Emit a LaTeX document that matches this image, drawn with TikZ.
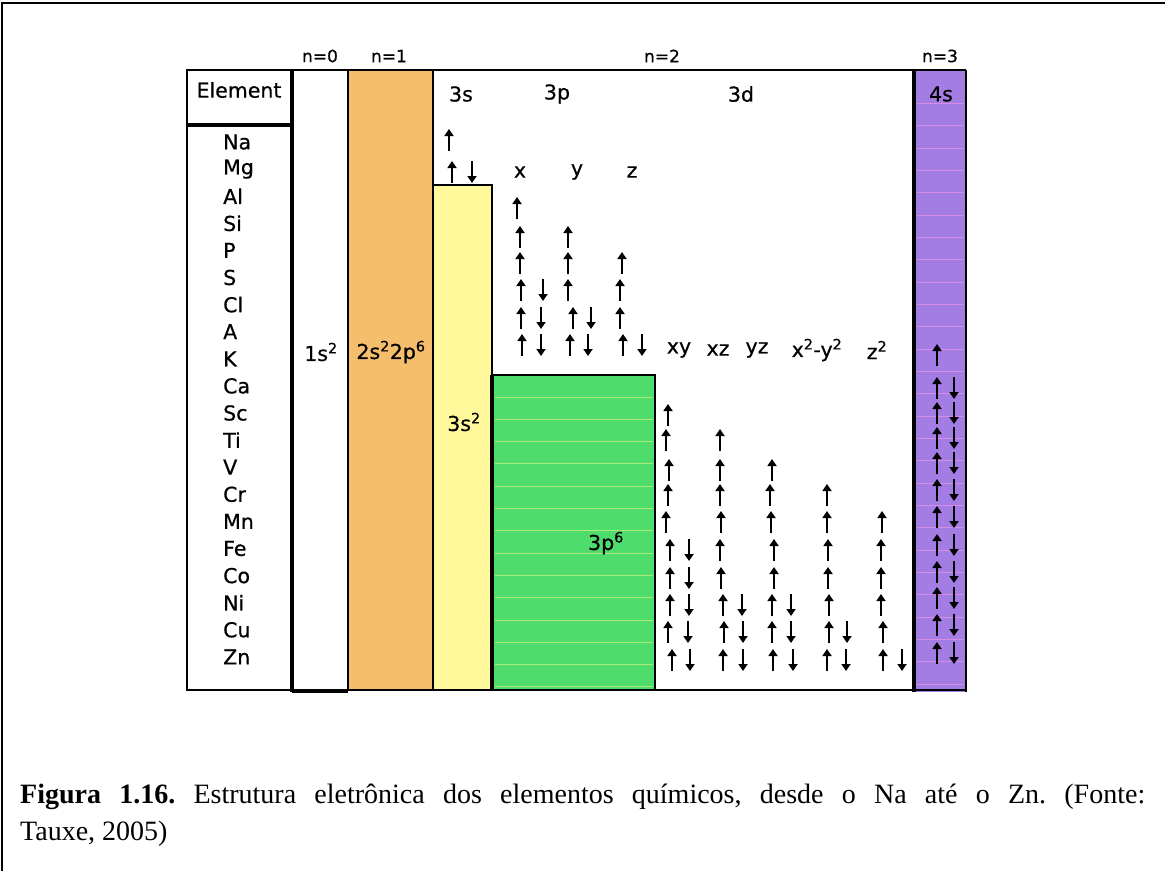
\documentclass[tikz,border=0pt]{standalone}
\usepackage{fontspec}
\setmainfont{Liberation Serif}
\newfontfamily\chartfont[FakeBold=0.6]{DejaVu Sans}
\usetikzlibrary{arrows.meta}
\definecolor{orangecol}{RGB}{245,190,108}
\definecolor{yellowcol}{RGB}{255,249,155}
\definecolor{greencol}{RGB}{78,220,108}
\definecolor{greenstripe}{RGB}{170,235,120}
\definecolor{purplecol}{RGB}{163,124,228}
\definecolor{purplestripe}{RGB}{215,140,232}
\newcommand\uparr[2]{\draw[spin] (#1,#2+11) -- (#1,#2-11);}
\newcommand\dnarr[2]{\draw[spin] (#1,#2-11) -- (#1,#2+11);}
\begin{document}
\begin{tikzpicture}[x=1pt,y=-1pt,
  lbl/.style={font=\chartfont\fontsize{20.5}{24}\selectfont, inner sep=0pt},
  nlbl/.style={font=\chartfont\fontsize{17}{20}\selectfont, inner sep=0pt},
  captxt/.style={font=\fontsize{28}{37}\selectfont, inner sep=0pt},
  spin/.style={line width=2.8pt, -{Triangle[width=9pt,length=7pt]}},
  border/.style={line width=2pt, draw=black},
  thickborder/.style={line width=3.5pt, draw=black}]
\useasboundingbox (0,0) rectangle (1165,871);
% page frame
\draw[line width=1.5pt] (2,871) -- (2,3) -- (1165,3);

% coloured columns
\fill[orangecol] (348,70) rectangle (433,690);
\fill[yellowcol] (433,185) rectangle (492,690);
\fill[greencol] (492,375) rectangle (655,690);
\foreach \yy in {397,419,441,463,486,508,530,553,575,597,620,642,664,686}
  \draw[greenstripe, line width=0.8pt] (495,\yy) -- (653,\yy);
\fill[purplecol] (914,70) rectangle (966,692);
\foreach \yy in {103,125,148,170,192,215,237,259,282,304,326,349,371,393,416,438,460,483,505,527,550,572,594,617,639,661,684}
  \draw[purplestripe, line width=0.8pt] (917,\yy) -- (964,\yy);

% borders
\draw[border] (187,70) rectangle (292,690);
\draw[thickborder] (187,125) -- (292,125);
\draw[border] (187,70) -- (966,70);
\draw[border] (292,690) -- (966,690);
\draw[border] (348,70) -- (348,690);
\draw[border] (433,70) -- (433,690);
\draw[border] (433,185) -- (492,185) -- (492,690);
\draw[border] (492,375) -- (655,375) -- (655,690);
\draw[thickborder] (492,375) -- (492,690);
\draw[thickborder] (292,70) -- (292,692);
\draw[thickborder] (914,70) -- (914,692);
\draw[border] (966,70) -- (966,692);
\draw[border] (292,692) -- (348,692);

% shell labels
\node[nlbl] (n0) at (320,56) {n=0};
\node[nlbl] (n1) at (389,56) {n=1};
\node[nlbl] (n2) at (662,56) {n=2};
\node[nlbl] (n3) at (940,56) {n=3};

% header
\node[lbl] (elem) at (239,90) {Element};
\node[lbl] (s3) at (461,94) {3s};
\node[lbl] (p3) at (557,94) {3p};
\node[lbl] (d3) at (741,94) {3d};
\node[lbl] (s4) at (941,94) {4s};

% element list
\foreach \el [count=\i from 0] in {Na,Mg,Al,Si,P,S,Cl,A,K,Ca,Sc,Ti,V,Cr,Mn,Fe,Co,Ni,Cu,Zn}
  \node[lbl, anchor=west] (el\i) at (223,{142+27.1*\i}) {\el};

% filled-shell labels
\node[lbl] (c1s) at (321,352) {1s\textsuperscript{2}};
\node[lbl] (c2s) at (391,352) {2s\textsuperscript{2}2p\textsuperscript{6}};
\node[lbl] (c3s) at (464,422) {3s\textsuperscript{2}};
\node[lbl] (c3p) at (606,543) {3p\textsuperscript{6}};

% orbital labels
\node[lbl] (ox) at (520,172) {x};
\node[lbl] (oy) at (577,172) {y};
\node[lbl] (oz) at (632,172) {z};
\node[lbl] (oxy) at (679,350) {xy};
\node[lbl] (oxz) at (718,350) {xz};
\node[lbl] (oyz) at (757,350) {yz};
\node[lbl] (ox2y2) at (817,350) {x\textsuperscript{2}-y\textsuperscript{2}};
\node[lbl] (oz2) at (877,350) {z\textsuperscript{2}};

% 3s electrons
\uparr{449}{140}
\uparr{452}{172} \dnarr{472}{172}

% 3p electrons
\uparr{517}{208}
\uparr{520}{237} \uparr{568}{237}
\uparr{520}{263} \uparr{568}{263} \uparr{622}{263}
\uparr{521}{290} \dnarr{543}{290} \uparr{568}{290} \uparr{620}{290}
\uparr{521}{318} \dnarr{541}{318} \uparr{573}{318} \dnarr{591}{318} \uparr{620}{318}
\uparr{522}{345} \dnarr{541}{345} \uparr{570}{345} \dnarr{588}{345} \uparr{623}{345} \dnarr{642}{345}

% 3d electrons
\uparr{668}{415}
\uparr{666}{440} \uparr{720}{440}
\uparr{669}{470} \uparr{720}{470} \uparr{772}{470}
\uparr{668}{495} \uparr{720}{495} \uparr{770}{495} \uparr{827}{495}
\uparr{666}{522} \uparr{721}{522} \uparr{771}{522} \uparr{827}{522} \uparr{882}{522}
\uparr{670}{550} \dnarr{689}{550} \uparr{720}{550} \uparr{774}{550} \uparr{828}{550} \uparr{881}{550}
\uparr{670}{578} \dnarr{689}{578} \uparr{721}{578} \uparr{774}{578} \uparr{828}{578} \uparr{881}{578}
\uparr{670}{605} \dnarr{689}{605} \uparr{723}{605} \dnarr{742}{605} \uparr{772}{605} \dnarr{791}{605} \uparr{829}{605} \uparr{881}{605}
\uparr{668}{632} \dnarr{688}{632} \uparr{724}{632} \dnarr{743}{632} \uparr{772}{632} \dnarr{791}{632} \uparr{829}{632} \dnarr{847}{632} \uparr{883}{632}
\uparr{672}{660} \dnarr{690}{660} \uparr{723}{660} \dnarr{743}{660} \uparr{773}{660} \dnarr{793}{660} \uparr{827}{660} \dnarr{846}{660} \uparr{883}{660} \dnarr{902}{660}

% 4s electrons
\uparr{937}{355}
\foreach \yy in {388,413,438,463,490,517,545,572,598,625,653}
  {\uparr{937}{\yy} \dnarr{954}{\yy}}

% caption
\node[captxt, anchor=base west, text width=1125pt, align=justify] (caption) at (20,803)
  {\noindent\frenchspacing\hyphenpenalty=10000 \textbf{Figura 1.16.} Estrutura eletrônica dos elementos químicos, desde o Na até o Zn. (Fonte:\linebreak Tauxe, 2005)};
\end{tikzpicture}
\end{document}
